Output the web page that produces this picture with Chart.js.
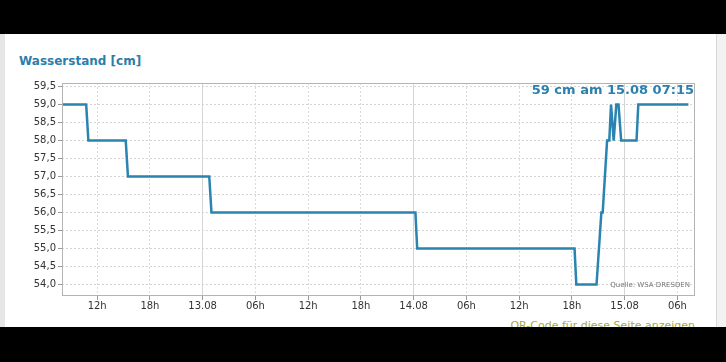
<!DOCTYPE html>
<html>
<head>
<meta charset="utf-8">
<script src="https://cdn.jsdelivr.net/npm/chart.js@4/dist/chart.umd.min.js"></script>
<style>
  html, body { margin: 0; padding: 0; }
  body { width: 726px; height: 362px; position: relative; overflow: hidden; background: #fff; font-family: "DejaVu Sans", sans-serif; }
  .bar { position: absolute; left: 0; width: 726px; background: #000; z-index: 5; }
  #leftStrip { position: absolute; left: 0; top: 0; width: 5px; height: 362px; background: #e6e6e6; }
  #rightStrip { position: absolute; left: 716px; top: 0; width: 10px; height: 362px; background: #f2f2f2; border-left: 1px solid #d8d8d8; box-sizing: border-box; }
  #title { position: absolute; left: 19px; top: 54px; font-size: 12px; font-weight: bold; color: #2b7eac; }
  #wrap { position: absolute; left: 0; top: 80px; width: 716px; height: 240px; }
  #current { position: absolute; right: 32px; top: 82px; font-size: 13px; font-weight: bold; color: #2b80ae; z-index: 2; }
  #source { position: absolute; right: 36px; top: 281px; font-size: 7px; color: #777; z-index: 2; }
  #qr { position: absolute; right: 31px; top: 319px; font-size: 11px; color: #aaa83a; }
</style>
</head>
<body>
<div class="bar" style="top:0;height:34px"></div>
<div class="bar" style="top:327px;height:35px"></div>
<div id="leftStrip"></div>
<div id="rightStrip"></div>
<div id="title">Wasserstand [cm]</div>
<div id="current">59 cm am 15.08 07:15</div>
<div id="source">Quelle: WSA DRESDEN</div>
<div id="qr">QR-Code für diese Seite anzeigen</div>
<div id="wrap"><canvas id="chart"></canvas></div>
<script>
// Stunden ab 12.08 00:00
const hours  = [8.0, 10.75, 11.0, 15.25, 15.5, 24.75, 25.0, 48.2, 48.4, 66.3, 66.5, 68.8, 69.35, 69.5, 70.0, 70.25, 70.45, 70.75, 71.05, 71.3, 71.6, 73.35, 73.55, 79.25];
const levels = [59, 59, 58, 58, 57, 57, 56, 56, 55, 55, 54, 54, 56, 56, 58, 58, 59, 58, 59, 59, 58, 58, 59, 59];

const xTickHours  = [12, 18, 24, 30, 36, 42, 48, 54, 60, 66, 72, 78];
const xTickLabels = ["12h", "18h", "13.08", "06h", "12h", "18h", "14.08", "06h", "12h", "18h", "15.08", "06h"];
const dayLines = [24, 48, 72];
const yTicks = [54, 54.5, 55, 55.5, 56, 56.5, 57, 57.5, 58, 58.5, 59, 59.5];

const FONT = { family: "DejaVu Sans", size: 10 };

// Rahmen um die Plotfläche
const frame = {
  id: "frame",
  afterDraw(chart) {
    const { ctx, chartArea: a } = chart;
    ctx.save();
    ctx.strokeStyle = "#b4b4b4";
    ctx.lineWidth = 1;
    ctx.strokeRect(a.left + 0.5, a.top + 0.5, a.right - a.left - 1, a.bottom - a.top - 1);
    ctx.restore();
  }
};

new Chart(document.getElementById("chart"), {
  type: "line",
  data: {
    datasets: [{
      data: hours.map((h, i) => ({ x: h, y: levels[i] })),
      borderColor: "#2a84b0",
      borderWidth: 2.5,
      pointRadius: 0,
      tension: 0,
      fill: false
    }]
  },
  options: {
    responsive: true,
    maintainAspectRatio: false,
    animation: false,
    layout: { padding: { top: 3, right: 21, left: 0, bottom: 0 } },
    plugins: { legend: { display: false }, tooltip: { enabled: false } },
    scales: {
      x: {
        type: "linear",
        min: 8, max: 80,
        afterBuildTicks: s => { s.ticks = xTickHours.map(v => ({ value: v })); },
        afterFit: s => { s.height = 24; s.paddingLeft = 0; s.paddingRight = 0; },
        ticks: {
          autoSkip: false, maxRotation: 0, padding: 0,
          font: FONT, color: "#333",
          callback: v => xTickLabels[xTickHours.indexOf(v)]
        },
        grid: { color: "#dcdcdc", tickColor: "#999", tickLength: 4 },
        border: { display: false, dash: [2, 2] }
      },
      xDays: {
        type: "linear",
        position: "bottom",
        min: 8, max: 80,
        afterBuildTicks: s => { s.ticks = dayLines.map(v => ({ value: v })); },
        afterFit: s => { s.height = 0; s.paddingLeft = 0; s.paddingRight = 0; },
        ticks: { display: false },
        grid: { color: "#d4d4d4", drawTicks: false },
        border: { display: false }
      },
      y: {
        min: 53.68, max: 59.6,
        afterBuildTicks: s => { s.ticks = yTicks.map(v => ({ value: v })); },
        afterFit: s => { s.width = 62; s.paddingTop = 0; s.paddingBottom = 0; },
        ticks: {
          padding: 2, font: FONT, color: "#333",
          callback: v => v.toFixed(1).replace(".", ",")
        },
        grid: { color: "#d4d4d4", tickColor: "#999", tickLength: 4 },
        border: { display: false, dash: [2, 2] }
      }
    }
  },
  plugins: [frame]
});
</script>
</body>
</html>
